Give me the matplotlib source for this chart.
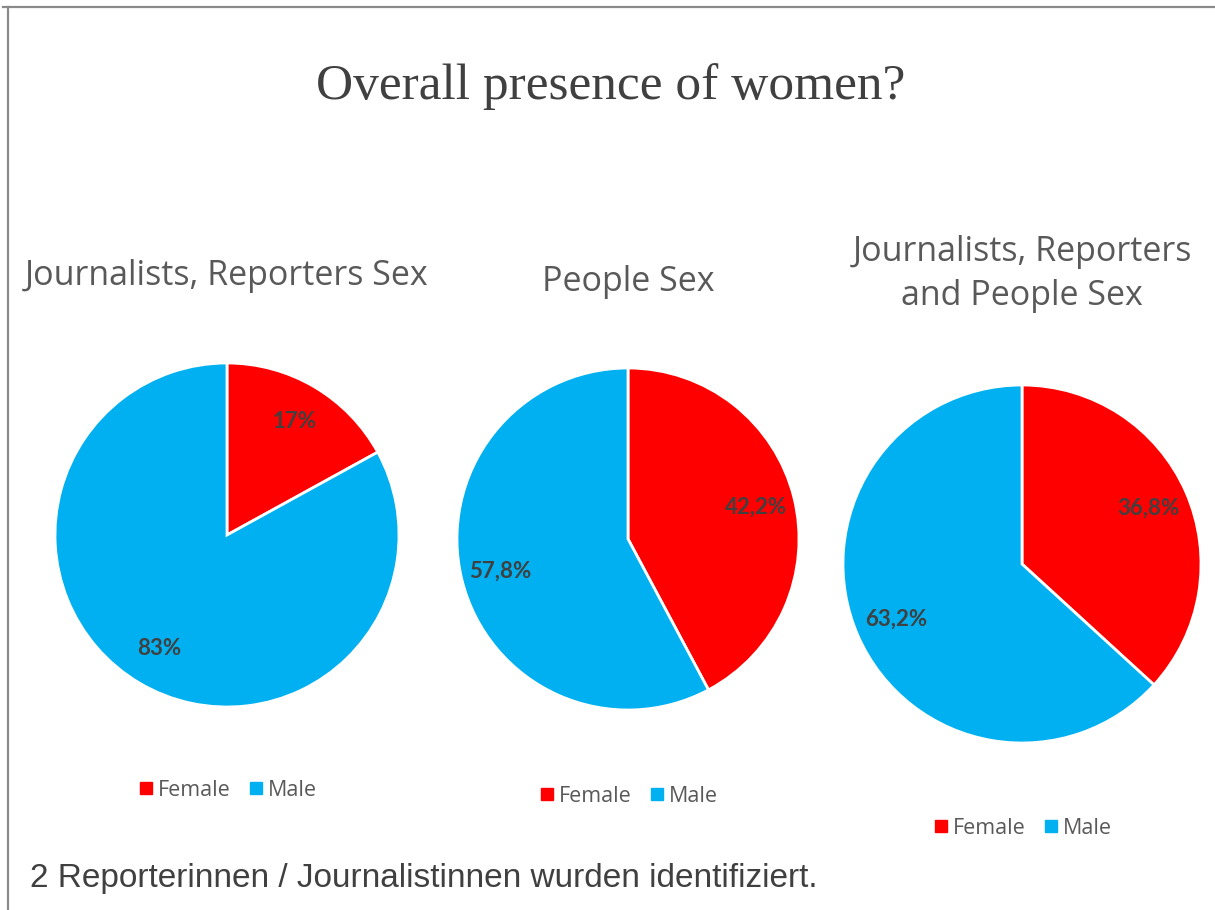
import matplotlib
matplotlib.use("Agg")
import matplotlib.pyplot as plt
from matplotlib.lines import Line2D

W, H = 1215, 910
DPI = 100

categories = ["Female", "Male"]
colors = ["#FF0000", "#00B0F0"]
pie_titles = ["Journalists, Reporters Sex", "People Sex", "Journalists, Reporters\nand People Sex"]
pie_values = [[17, 83], [42.2, 57.8], [36.8, 63.2]]
pie_decimals = [0, 1, 1]
main_title = "Overall presence of women?"
footnote = "2 Reporterinnen / Journalistinnen wurden identifiziert."

# layout (pixels): center x, center y, radius, title y, legend y
geom = [
    (227, 535, 172, 276, 790),
    (628, 539, 171, 282, 796),
    (1022, 564, 179, 274, 828),
]

fig = plt.figure(figsize=(W / DPI, H / DPI), dpi=DPI)
fig.patch.set_facecolor("white")

# frame lines
fig.add_artist(Line2D([3 / W, 1.0], [1 - 6.5 / H, 1 - 6.5 / H], color="#8a8a8a", lw=1.6,
                      transform=fig.transFigure))
fig.add_artist(Line2D([8 / W, 8 / W], [1 - 6.5 / H, 0], color="#8a8a8a", lw=1.6,
                      transform=fig.transFigure))

fig.text(611 / W, 1 - 87 / H, main_title, ha="center", va="center",
         fontsize=37, family="Liberation Serif", color="#404040")

for (cx, cy, r, ty, ly), title, vals, dec in zip(geom, pie_titles, pie_values, pie_decimals):
    ax = fig.add_axes([(cx - r) / W, 1 - (cy + r) / H, 2 * r / W, 2 * r / H])
    fmt = "{:.%df}%%" % dec
    wedges, _, autotexts = ax.pie(
        vals, colors=colors, startangle=90, counterclock=False, radius=1,
        autopct=lambda p, fmt=fmt: fmt.format(p).replace(".", ","),
        pctdistance=0.77,
        wedgeprops=dict(edgecolor="white", linewidth=2),
        textprops=dict(fontsize=16, color="#404040", family="Lato", fontweight="bold"),
    )
    ax.set_xlim(-1.0, 1.0)
    ax.set_ylim(-1.0, 1.0)
    ax.set_aspect("equal")
    ax.axis("off")

    fig.text(cx / W, 1 - ty / H, title, ha="center", va="center", fontsize=24.5,
             family="Open Sans", color="#595959", linespacing=1.4)

    handles = [Line2D([], [], marker="s", linestyle="none", markersize=8,
                      markerfacecolor=c, markeredgecolor=c) for c in colors]
    fig.legend(handles, categories, loc="center", bbox_to_anchor=(cx / W, 1 - ly / H),
               ncol=2, frameon=False, prop=dict(family="Open Sans", size=15.5),
               labelcolor="#595959", handletextpad=0.15, columnspacing=0.8,
               handlelength=0.8)

fig.text(30 / W, 1 - 879 / H, footnote, ha="left", va="center", fontsize=24,
         family="Liberation Sans", color="#404040")

fig.savefig("out.png", dpi=DPI, facecolor="white")
